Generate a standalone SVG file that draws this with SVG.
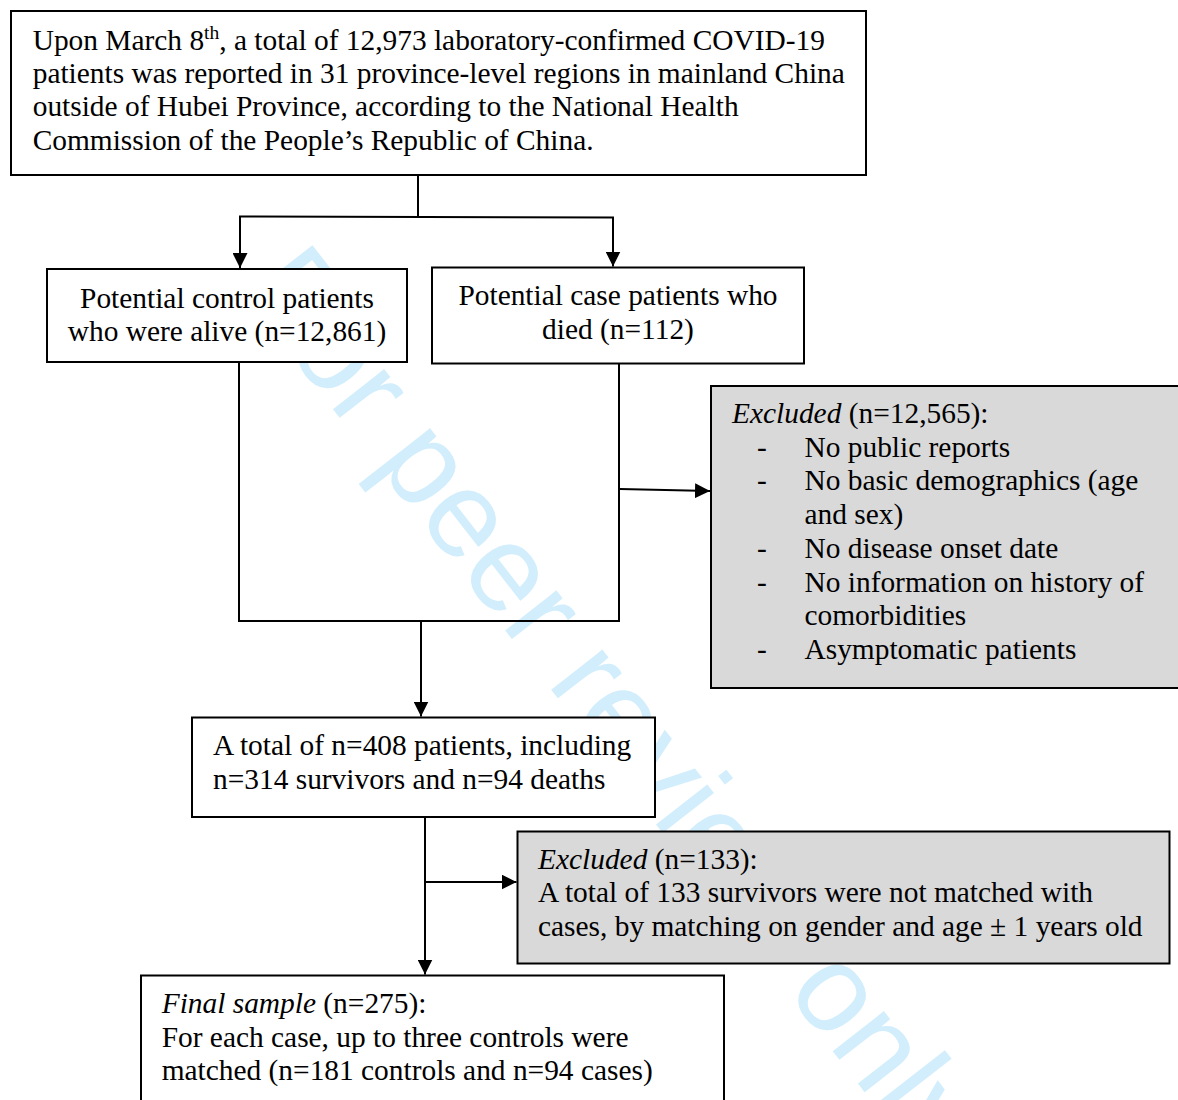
<svg xmlns="http://www.w3.org/2000/svg" width="1178" height="1100" viewBox="0 0 1178 1100">
<defs>
<style>
.box{fill:#ffffff;stroke:#000000;stroke-width:2}
.gray{fill:#d9d9d9;stroke:#000000;stroke-width:2}
.t{font-family:"Liberation Serif","Times New Roman",serif;font-size:29.4px;fill:#000000}
.c{text-anchor:middle}
.i{font-style:italic}
.wm{font-family:"Liberation Sans",Arial,sans-serif;font-size:123px;fill:#d2eefc}
.ln{fill:none;stroke:#000000;stroke-width:2}
.ar{fill:none;stroke:#000000;stroke-width:2;marker-end:url(#ah)}
</style>
<marker id="ah" viewBox="0 0 15 15" refX="15" refY="7.5" markerWidth="15" markerHeight="15" markerUnits="userSpaceOnUse" orient="auto">
<path d="M0,0 L15,7.5 L0,15 z" fill="#000000"/>
</marker>
</defs>
<rect x="0" y="0" width="1178" height="1100" fill="#ffffff"/>
<text class="wm" transform="translate(239.5,289.3) rotate(52.1)">For peer review only</text>
<g id="connectors">
<path class="ln" d="M418,175 V216.5"/>
<path class="ln" d="M239,216.5 L614,217.5"/>
<path class="ar" d="M240,216.5 V268"/>
<path class="ar" d="M613,217.5 V266.5"/>
<path class="ln" d="M239,362 V621 H619 V364"/>
<path class="ar" d="M620,489 L710,491"/>
<path class="ar" d="M421,621 V716.5"/>
<path class="ar" d="M425,817 V974.5"/>
<path class="ar" d="M426,882 L516.5,882"/>
</g>
<g id="node-source">
<rect class="box" x="11" y="11" width="855" height="164"/>
<text class="t" x="32.7" y="49.5">Upon March 8<tspan font-size="19.5" dy="-11">th</tspan><tspan dy="11">, a total of 12,973 laboratory-confirmed COVID-19</tspan></text>
<text class="t" x="32.7" y="83">patients was reported in 31 province-level regions in mainland China</text>
<text class="t" x="32.7" y="116.3">outside of Hubei Province, according to the National Health</text>
<text class="t" x="32.7" y="149.6">Commission of the People’s Republic of China.</text>
</g>
<g id="node-controls">
<rect class="box" x="47" y="269" width="360" height="93"/>
<text class="t c" x="227" y="307.5">Potential control patients</text>
<text class="t c" x="227" y="340.5">who were alive (n=12,861)</text>
</g>
<g id="node-cases">
<rect class="box" x="432" y="267.5" width="372" height="96"/>
<text class="t c" x="618" y="305.3">Potential case patients who</text>
<text class="t c" x="618" y="338.8">died (n=112)</text>
</g>
<g id="node-excluded1">
<rect class="gray" x="711" y="386" width="480" height="302"/>
<text class="t" x="732" y="423.3"><tspan class="i">Excluded</tspan> (n=12,565):</text>
<text class="t" x="757" y="456.7">-</text>
<text class="t" x="804.5" y="456.7">No public reports</text>
<text class="t" x="757" y="490">-</text>
<text class="t" x="804.5" y="490">No basic demographics (age</text>
<text class="t" x="804.5" y="524">and sex)</text>
<text class="t" x="757" y="557.5">-</text>
<text class="t" x="804.5" y="557.5">No disease onset date</text>
<text class="t" x="757" y="591.5">-</text>
<text class="t" x="804.5" y="591.5">No information on history of</text>
<text class="t" x="804.5" y="625">comorbidities</text>
<text class="t" x="757" y="658.5">-</text>
<text class="t" x="804.5" y="658.5">Asymptomatic patients</text>
</g>
<g id="node-total">
<rect class="box" x="192" y="717.5" width="463" height="99.5"/>
<text class="t" x="213" y="755">A total of n=408 patients, including</text>
<text class="t" x="213" y="789">n=314 survivors and n=94 deaths</text>
</g>
<g id="node-excluded2">
<rect class="gray" x="517.5" y="831.5" width="652" height="132"/>
<text class="t" x="538" y="868.5"><tspan class="i">Excluded</tspan> (n=133):</text>
<text class="t" x="538" y="902">A total of 133 survivors were not matched with</text>
<text class="t" x="538" y="935.5">cases, by matching on gender and age ± 1 years old</text>
</g>
<g id="node-final">
<rect class="box" x="141" y="975.5" width="583" height="140"/>
<text class="t" x="161.7" y="1013"><tspan class="i">Final sample</tspan> (n=275):</text>
<text class="t" x="161.7" y="1046.5">For each case, up to three controls were</text>
<text class="t" x="161.7" y="1080">matched (n=181 controls and n=94 cases)</text>
</g>
</svg>
